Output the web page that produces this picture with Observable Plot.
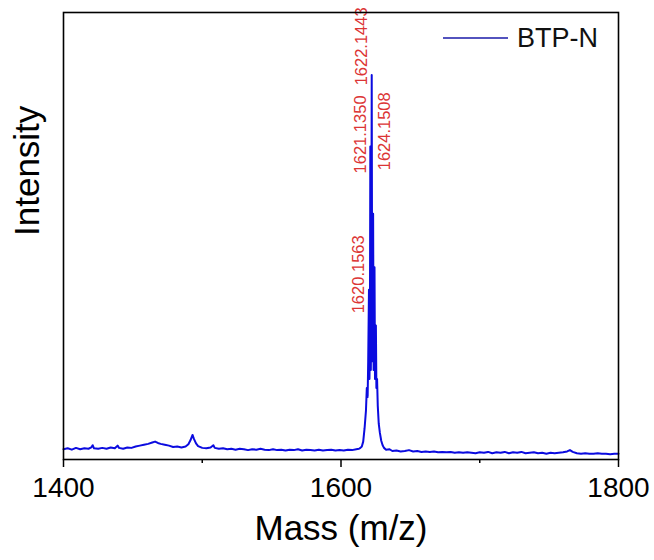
<!DOCTYPE html>
<html>
<head>
<meta charset="utf-8">
<script src="https://cdn.jsdelivr.net/npm/d3@7"></script>
<script src="https://cdn.jsdelivr.net/npm/@observablehq/plot@0.6"></script>
<style>
  html, body { margin: 0; padding: 0; background: #fff; }
  #chart { width: 654px; height: 560px; }
</style>
</head>
<body>
<div id="chart"></div>
<script>
// ---- Data ----
const seriesName = "BTP-N";
const massValues = [
  1400,1403,1406,1409,1412,1415,1418,1420,1421,1422,1425,1428,1431,1434,1437,1439,1440,1443,1446,1449,
  1452,1455,1458,1461,1464,1466,1468,1470,1473,1476,1479,1482,1485,1488,1490,1491.5,1493,1494,1495.5,1497,
  1500,1503,1506,1508,1509,1512,1515,1518,1521,1524,1527,1530,1533,1536,1539,1542,1545,1548,1551,1554,
  1557,1560,1563,1566,1569,1572,1575,1578,1581,1584,1587,1590,1593,1596,1599,1602,1605,1608,1611,1613,
  1614,1615,1616,1617,1618,1618.6,1619.2,1619.6,1620.16,1620.5,1620.8,1621.14,1621.5,1621.8,1622.14,1622.5,
  1622.8,1623.15,1623.5,1623.8,1624.15,1624.5,1624.8,1625.15,1625.5,1626,1626.5,1627.2,1628,1629,1630,1631,1632.5,
  1635,1637,1640,1643,1646,1649,1652,1655,1658,1661,1664,1667,1670,1673,1676,1679,1682,1685,1688,1691,
  1694,1697,1700,1703,1706,1709,1712,1715,1718,1721,1724,1727,1730,1733,1736,1739,1742,1745,1748,1751,
  1754,1757,1760,1763,1765,1767,1770,1773,1776,1779,1782,1785,1788,1791,1794,1797,1800
];
const intensityValues = [
  2.3,2.5,2.2,2.6,2.3,2.5,2.4,2.7,3.2,2.5,2.4,2.6,2.4,2.7,2.5,3.1,2.6,2.4,2.7,2.6,
  2.9,3.1,3.3,3.5,3.8,4.0,3.7,3.5,3.3,3.1,2.8,2.9,2.7,2.9,3.4,4.3,5.5,4.6,3.6,3.0,
  2.6,2.5,2.7,3.2,2.6,2.4,2.5,2.3,2.4,2.2,2.4,2.3,2.1,2.3,2.2,2.4,2.2,2.1,2.3,2.1,
  2.2,2.0,2.2,2.1,2.3,2.0,2.2,2.1,2.0,2.2,2.0,2.1,2.2,2.0,2.1,2.0,2.2,2.1,2.3,2.4,
  2.6,2.9,4.0,7.0,11.0,16.0,14.0,22.0,38.0,18.0,24.0,70.0,20.0,30.0,86.0,22.0,
  28.0,55.0,20.0,26.0,43.0,18.0,21.0,30.0,16.0,18.0,12.0,8.0,6.0,4.2,3.2,2.6,2.2,
  2.3,1.9,2.0,1.8,1.9,2.1,1.8,1.9,1.7,1.8,1.7,1.8,1.6,1.7,1.6,1.7,1.5,1.6,1.5,1.6,
  1.5,1.4,1.6,1.5,1.7,1.4,1.6,1.5,1.7,1.4,1.6,1.5,1.7,1.4,1.5,1.6,1.4,1.5,1.3,1.5,
  1.4,1.5,1.6,1.8,2.1,1.7,1.4,1.3,1.4,1.3,1.3,1.4,1.3,1.3,1.2,1.3,1.3
];
// peak annotations
const peakMasses = [1622.1443, 1621.1350, 1624.1508, 1620.1563];
const peakLabels = ["1622.1443", "1621.1350", "1624.1508", "1620.1563"];
const peakLabelLevels = [83.7, 64, 64.7, 32.7];
const peakLabelSide = [-1, -1, 1, -1];
// axis
const xTicks = [1400, 1600, 1800];
const xMinorTicks = [1500, 1700];
const xTitle = "Mass (m/z)";
const yTitle = "Intensity";

// ---- Build ----
const spectrum = massValues.map((m, i) => ({mass: m, intensity: intensityValues[i]}));
const labels = peakMasses.map((m, i) => ({mass: m, level: peakLabelLevels[i], text: peakLabels[i], side: peakLabelSide[i]}));

const font = "Arial, 'Liberation Sans', sans-serif";
const lineColor = "#0b0bdf";
const labelColor = "#dc3535";

const plot = Plot.plot({
  width: 654,
  height: 560,
  marginLeft: 63,
  marginRight: 36,
  marginTop: 12,
  marginBottom: 101,
  style: {fontFamily: font, background: "#fff", color: "#000"},
  x: {domain: [1400, 1800]},
  y: {domain: [0, 100], axis: null},
  marks: [
    Plot.line(spectrum, {x: "mass", y: "intensity", stroke: lineColor, strokeWidth: 2}),
    Plot.text(labels.filter(d => d.side < 0), {x: "mass", y: "level", text: "text", rotate: -90, textAnchor: "start",
      dx: -10, fill: labelColor, fontSize: 16.5}),
    Plot.text(labels.filter(d => d.side > 0), {x: "mass", y: "level", text: "text", rotate: -90, textAnchor: "start",
      dx: 10, fill: labelColor, fontSize: 16.5}),
    Plot.axisX({ticks: xTicks, tickFormat: d3.format("d"), tickSize: 8, tickPadding: 10, fontSize: 28, label: null, strokeWidth: 1.5}),
    Plot.axisX({ticks: xMinorTicks, tickSize: 4, tickFormat: () => "", label: null, strokeWidth: 1.5}),
    Plot.text([xTitle], {frameAnchor: "bottom", dy: 80, fontSize: 35, fill: "#000"}),
    Plot.text([yTitle], {frameAnchor: "left", dx: -36, rotate: -90, fontSize: 35, fill: "#000"}),
    Plot.frame({stroke: "#000", strokeWidth: 1.6})
  ]
});

// legend (inside the frame, top-right)
const svg = d3.select(plot);
const lg = svg.append("g").attr("font-family", font).attr("text-anchor", "start");
lg.append("line").attr("x1", 443).attr("x2", 508).attr("y1", 38).attr("y2", 38)
  .attr("stroke", "#1a1aa8").attr("stroke-width", 1.3);
lg.append("text").attr("x", 517).attr("y", 38).attr("dy", "0.35em")
  .attr("font-size", 27).attr("fill", "#111").text(seriesName);

document.getElementById("chart").appendChild(plot);
</script>
</body>
</html>
